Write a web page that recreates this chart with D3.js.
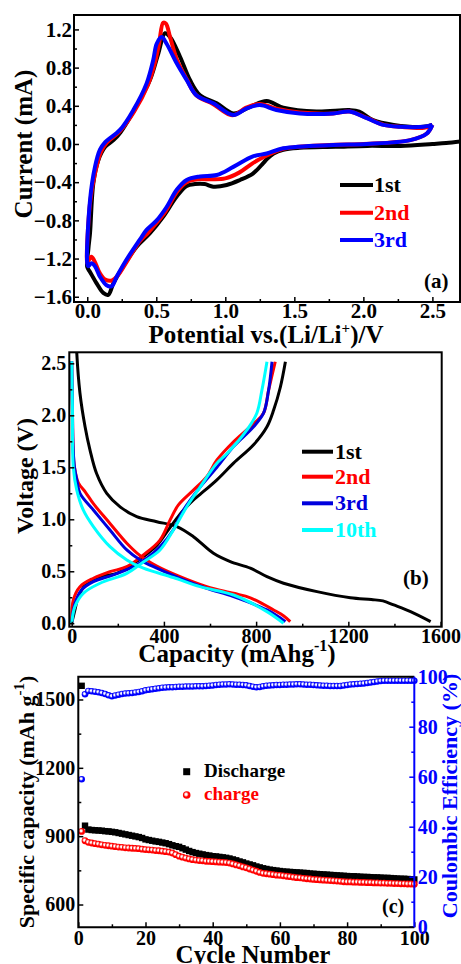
<!DOCTYPE html>
<html>
<head>
<meta charset="utf-8">
<script src="https://cdn.jsdelivr.net/npm/d3@7"></script>
<style>
  body { margin: 0; background: #fff; }
  svg text { font-family: "Liberation Serif", "Times New Roman", serif; font-weight: bold; }
</style>
</head>
<body>
<svg id="chart" width="461" height="964"></svg>
<script>
// ---- (a) cyclic voltammetry: [potential V, current mA]
const cv1st = [[2.72,0.03],[2.6,0.01],[2.5,0.0],[2.27,-0.02],[2.03,-0.02],[1.8,-0.03],[1.54,-0.04],[1.42,-0.06],[1.35,-0.1],[1.3,-0.16],[1.275,-0.2],[1.2,-0.31],[1.107,-0.377],[1.01,-0.43],[0.913,-0.447],[0.85,-0.42],[0.78,-0.42],[0.72,-0.44],[0.648,-0.55],[0.551,-0.76],[0.454,-0.935],[0.358,-1.075],[0.261,-1.28],[0.189,-1.46],[0.152,-1.58],[0.116,-1.56],[0.068,-1.46],[0.02,-1.34],[0.0,-1.29],[0.008,-1.1],[0.02,-0.935],[0.044,-0.41],[0.08,-0.17],[0.13,-0.03],[0.19,0.04],[0.24,0.12],[0.334,0.34],[0.454,0.67],[0.515,0.95],[0.563,1.16],[0.6,1.12],[0.672,0.914],[0.744,0.67],[0.817,0.51],[0.938,0.426],[1.058,0.32],[1.18,0.39],[1.3,0.45],[1.42,0.38],[1.66,0.34],[1.9,0.355],[1.97,0.34],[2.07,0.25],[2.22,0.2],[2.435,0.18],[2.5,0.2]];
const cv2nd = [[2.5,0.2],[2.46,0.11],[2.34,0.04],[2.0,0.0],[1.75,-0.01],[1.42,-0.05],[1.3,-0.12],[1.2,-0.2],[1.1,-0.3],[1.0,-0.36],[0.9,-0.37],[0.8,-0.37],[0.72,-0.4],[0.65,-0.5],[0.57,-0.7],[0.5,-0.83],[0.44,-0.93],[0.38,-1.02],[0.3,-1.2],[0.22,-1.38],[0.18,-1.43],[0.13,-1.42],[0.09,-1.35],[0.05,-1.22],[0.03,-1.18],[0.01,-1.22],[0.0,-1.25],[0.02,-0.62],[0.06,-0.28],[0.1,-0.08],[0.14,0.01],[0.24,0.14],[0.34,0.34],[0.44,0.62],[0.49,0.85],[0.52,1.05],[0.55,1.27],[0.57,1.26],[0.6,1.12],[0.65,0.88],[0.72,0.68],[0.79,0.51],[0.91,0.42],[1.05,0.3],[1.15,0.38],[1.25,0.42],[1.37,0.37],[1.54,0.33],[1.78,0.32],[1.9,0.34],[2.03,0.27],[2.15,0.2],[2.27,0.18],[2.44,0.17],[2.5,0.2]];
const cv3rd = [[2.5,0.2],[2.46,0.11],[2.34,0.04],[2.025,0.0],[1.78,-0.01],[1.42,-0.045],[1.3,-0.1],[1.2,-0.13],[1.058,-0.24],[0.938,-0.325],[0.817,-0.34],[0.72,-0.377],[0.648,-0.48],[0.575,-0.66],[0.503,-0.8],[0.43,-0.9],[0.382,-1.0],[0.285,-1.21],[0.213,-1.39],[0.177,-1.49],[0.14,-1.48],[0.092,-1.39],[0.056,-1.28],[0.03,-1.25],[0.007,-1.28],[0.0,-1.25],[0.02,-0.59],[0.056,-0.24],[0.092,-0.06],[0.13,0.02],[0.237,0.147],[0.334,0.356],[0.43,0.635],[0.478,0.88],[0.503,1.05],[0.539,1.12],[0.575,1.05],[0.648,0.845],[0.72,0.67],[0.79,0.51],[0.913,0.426],[1.058,0.304],[1.155,0.373],[1.25,0.408],[1.37,0.356],[1.54,0.32],[1.78,0.32],[1.9,0.34],[2.025,0.27],[2.145,0.2],[2.27,0.18],[2.435,0.18],[2.5,0.2]];

// ---- (b) charge/discharge profiles: [capacity mAh/g, voltage V]
const gcd1stDis = [[20,2.75],[22,2.6],[36,2.21],[58,1.89],[79,1.67],[108,1.44],[152,1.25],[210,1.12],[282,1.025],[369,0.977],[456,0.93],[528,0.833],[615,0.673],[688,0.593],[775,0.53],[847,0.448],[919,0.385],[1064,0.304],[1209,0.245],[1300,0.228],[1350,0.215],[1397,0.176],[1470,0.112],[1557,0.016]];
const gcd1stCha = [[0,0],[14,0.128],[29,0.256],[65,0.385],[123,0.448],[195,0.48],[268,0.577],[311,0.64],[370,0.75],[420,0.9],[470,1.05],[528,1.186],[557,1.24],[630,1.38],[702,1.54],[790,1.72],[847,1.89],[876,2.05],[905,2.27],[927,2.515]];
const gcd2ndDis = [[0,2.52],[3,2.1],[6,1.7],[12,1.5],[29,1.35],[60,1.26],[94,1.15],[166,0.96],[239,0.77],[297,0.65],[369,0.55],[470,0.448],[586,0.352],[702,0.288],[775,0.245],[876,0.128],[920,0.07],[948,0.016]];
const gcd2ndCha = [[0,0],[7,0.224],[36,0.352],[94,0.433],[166,0.496],[239,0.544],[311,0.657],[383,0.8],[427,0.994],[463,1.138],[528,1.28],[586,1.41],[630,1.57],[702,1.746],[789,1.92],[832,2.02],[854,2.24],[883,2.515]];
const gcd3rdDis = [[0,2.52],[3,2.1],[6,1.7],[12,1.5],[22,1.38],[36,1.25],[94,1.09],[166,0.897],[239,0.705],[297,0.609],[369,0.53],[470,0.432],[586,0.336],[702,0.256],[847,0.128],[927,0.016]];
const gcd3rdCha = [[0,0],[14,0.19],[43,0.32],[94,0.4],[181,0.465],[268,0.544],[326,0.625],[384,0.737],[441,0.9],[485,1.09],[557,1.31],[630,1.5],[702,1.7],[789,1.89],[832,2.02],[854,2.24],[869,2.515]];
const gcd10thDis = [[0,2.52],[3,2.1],[7,1.5],[22,1.28],[50,1.09],[94,0.93],[166,0.737],[239,0.609],[311,0.53],[441,0.44],[557,0.352],[702,0.272],[847,0.112],[919,0.0]];
const gcd10thCha = [[0,0],[14,0.16],[50,0.288],[123,0.385],[239,0.48],[311,0.59],[383,0.705],[441,0.897],[499,1.12],[557,1.31],[630,1.54],[673,1.63],[760,1.86],[803,2.02],[825,2.24],[847,2.515]];

// ---- (c) cycling: cycle number 1..100
const cycles = d3.range(1, 101);
const dischargeCap = [1560,946,929,927,926,925,924,922,921,919,917,914,911,908,905,902,899,896,892,886,883,880,877,875,872,869,865,860,856,853,847,841,835,830,826,823,820,817,815,812,811,809,807,805,802,798,794,789,785,780,776,772,767,763,759,756,753,751,749,747,745,744,743,742,741,740,739,738,736,735,734,733,732,731,730,729,728,727,726,725,724,724,723,722,721,721,720,719,719,718,717,717,716,715,714,713,713,712,711,710];
const chargeCap = [921,880,873,870,867,865,862,860,858,856,854,852,851,849,848,847,846,845,843,841,840,839,837,836,834,832,830,826,819,812,808,804,800,797,795,793,792,790,789,788,787,786,785,784,782,778,774,770,765,761,756,751,746,741,737,735,733,731,729,728,726,724,722,720,718,717,715,713,712,710,709,708,707,706,705,704,703,702,700,699,699,698,698,697,697,696,696,695,695,694,694,693,693,692,692,691,691,690,690,689];
const efficiency = [59,93,94.3,94.2,94,93.8,93.5,93.1,92.6,92.2,92.5,92.8,93.1,93.3,93.4,93.5,93.7,93.9,94.2,94.6,94.8,95,95.2,95.4,95.6,95.7,95.8,95.8,95.9,96,96,96.1,96.1,96.1,96.2,96.2,96.2,96.3,96.4,96.5,96.7,96.8,96.9,96.9,97,96.9,96.8,96.8,96.7,96.6,96.3,96,95.8,95.9,96.2,96.4,96.5,96.6,96.7,96.7,96.8,96.8,96.9,96.9,97,97,96.9,96.8,96.8,96.7,96.6,96.5,96.4,96.4,96.3,96.3,96.3,96.3,96.5,96.7,96.9,97,97.1,97.2,97.3,97.5,97.7,97.9,98.1,98.3,98.4,98.4,98.4,98.4,98.4,98.4,98.4,98.4,98.4,98.4];

const BLUE = "#0000ff", RED = "#ff0000", CYAN = "#00ffff";
const svg = d3.select("#chart");
const defs = svg.append("defs");

// ticks pointing inward, no domain path
function ticks(g, axis, tr, values, size, fmt, pad, fs, color) {
  const a = g.append("g").attr("transform", tr)
    .call(axis.tickValues(values).tickSize(-size).tickPadding(pad).tickFormat(fmt));
  a.select(".domain").remove();
  a.attr("font-family", null).attr("font-size", fs);
  a.selectAll("line").attr("stroke", color || "#000").attr("stroke-width", 1.5);
  a.selectAll("text").attr("fill", color || "#000");
  return a;
}

function clip(id, x0, y0, w, h) {
  defs.append("clipPath").attr("id", id).append("rect")
    .attr("x", x0).attr("y", y0).attr("width", w).attr("height", h);
  return "url(#" + id + ")";
}

function ylabel(x, y, fs, parts, color) {
  const t = svg.append("text").attr("transform", `translate(${x},${y}) rotate(-90)`)
    .attr("text-anchor", "middle").attr("font-size", fs).attr("fill", color || "#000");
  parts(t);
}

// ================= (a) =================
{
  const L = 74, T = 15, R = 460, B = 302;
  const x = d3.scaleLinear().domain([-0.096, 2.7]).range([L, R]);
  const y = d3.scaleLinear().domain([-1.655, 1.351]).range([B, T]);
  const g = svg.append("g");
  const line = d3.line().x(d => x(d[0])).y(d => y(d[1])).curve(d3.curveCatmullRom.alpha(0.5));
  const cp = clip("clipA", L, T, R - L, B - T);
  [[cv1st, "#000"], [cv2nd, RED], [cv3rd, BLUE]].forEach(([d, c]) => {
    g.append("path").attr("d", line(d)).attr("clip-path", cp)
      .attr("fill", "none").attr("stroke", c).attr("stroke-width", 4).attr("stroke-linejoin", "round");
  });
  ticks(g, d3.axisLeft(y), `translate(${L},0)`, [-1.6, -1.2, -0.8, -0.4, 0, 0.4, 0.8, 1.2], 5, d3.format(".1f"), 2, 21);
  ticks(g, d3.axisLeft(y), `translate(${L},0)`, [-1.4, -1.0, -0.6, -0.2, 0.2, 0.6, 1.0], 3, () => "", 2, 21);
  ticks(g, d3.axisBottom(x), `translate(0,${B})`, [0, 0.5, 1, 1.5, 2, 2.5], 5, d3.format(".1f"), 1, 21);
  ticks(g, d3.axisBottom(x), `translate(0,${B})`, [0.25, 0.75, 1.25, 1.75, 2.25], 3, () => "", 1, 21);
  g.append("rect").attr("x", L).attr("y", T).attr("width", R - L).attr("height", B - T)
    .attr("fill", "none").attr("stroke", "#000").attr("stroke-width", 2);

  const leg = [["1st", "#000", 185], ["2nd", RED, 212.7], ["3rd", BLUE, 240]];
  leg.forEach(([s, c, yy]) => {
    g.append("line").attr("x1", 340).attr("x2", 373).attr("y1", yy).attr("y2", yy)
      .attr("stroke", c).attr("stroke-width", 4);
    g.append("text").attr("x", 374).attr("y", yy + 7).attr("font-size", 22).attr("fill", c).text(s);
  });
  g.append("text").attr("x", 424).attr("y", 288).attr("font-size", 21).text("(a)");

  const xl = svg.append("text").attr("x", 266).attr("y", 343).attr("text-anchor", "middle").attr("font-size", 25);
  xl.append("tspan").text("Potential vs.(Li/Li");
  xl.append("tspan").attr("dy", -10).attr("font-size", 15).text("+");
  xl.append("tspan").attr("dy", 10).text(")/V");
  ylabel(32, 144, 25, t => t.text("Current (mA)"));
}

// ================= (b) =================
{
  const L = 69.3, T = 352.3, R = 441.7, B = 626.7;
  const x = d3.scaleLinear().domain([-10.4, 1605]).range([L, R]);
  const y = d3.scaleLinear().domain([-0.033, 2.606]).range([B, T]);
  const g = svg.append("g");
  const line = d3.line().x(d => x(d[0])).y(d => y(d[1])).curve(d3.curveCatmullRom.alpha(0.5));
  const cp = clip("clipB", L, T, R - L, B - T);
  const series = [[gcd1stDis, "#000"], [gcd1stCha, "#000"], [gcd2ndDis, RED], [gcd2ndCha, RED],
    [gcd3rdDis, "#0000dd"], [gcd3rdCha, "#0000dd"], [gcd10thDis, CYAN], [gcd10thCha, CYAN]];
  series.forEach(([d, c]) => {
    g.append("path").attr("d", line(d)).attr("clip-path", cp)
      .attr("fill", "none").attr("stroke", c).attr("stroke-width", 3).attr("stroke-linejoin", "round");
  });
  ticks(g, d3.axisLeft(y), `translate(${L},0)`, [0, 0.5, 1, 1.5, 2, 2.5], 5, d3.format(".1f"), 3, 20);
  ticks(g, d3.axisLeft(y), `translate(${L},0)`, [0.25, 0.75, 1.25, 1.75, 2.25], 3, () => "", 3, 20);
  ticks(g, d3.axisBottom(x), `translate(0,${B})`, [0, 400, 800, 1200, 1600], 5, d3.format("d"), 2, 20);
  ticks(g, d3.axisBottom(x), `translate(0,${B})`, [200, 600, 1000, 1400], 3, () => "", 2, 20);
  g.append("rect").attr("x", L).attr("y", T).attr("width", R - L).attr("height", B - T)
    .attr("fill", "none").attr("stroke", "#000").attr("stroke-width", 2);

  const leg = [["1st", "#000", 451.7], ["2nd", RED, 476.7], ["3rd", "#0000dd", 503.3], ["10th", CYAN, 530]];
  leg.forEach(([s, c, yy]) => {
    g.append("line").attr("x1", 302).attr("x2", 333).attr("y1", yy).attr("y2", yy)
      .attr("stroke", c).attr("stroke-width", 4);
    g.append("text").attr("x", 335).attr("y", yy + 7).attr("font-size", 22).attr("fill", c).text(s);
  });
  g.append("text").attr("x", 403).attr("y", 585).attr("font-size", 21).text("(b)");

  const xl = svg.append("text").attr("x", 237).attr("y", 662).attr("text-anchor", "middle").attr("font-size", 25);
  xl.append("tspan").text("Capacity (mAhg");
  xl.append("tspan").attr("dy", -11).attr("font-size", 16).text("-1");
  xl.append("tspan").attr("dy", 11).text(")");
  ylabel(33, 476, 24, t => t.text("Voltage (V)"));
}

// ================= (c) =================
{
  const L = 78.3, T = 676.7, R = 414.3, B = 927.3;
  const x = d3.scaleLinear().domain([0, 100]).range([L, R]);
  const y = d3.scaleLinear().domain([500, 1600]).range([B, T]);
  const yR = d3.scaleLinear().domain([0, 100]).range([926.7, T]);
  const g = svg.append("g");

  // shaded ball markers
  const grad = (id, c) => {
    const r = defs.append("radialGradient").attr("id", id).attr("cx", "42%").attr("cy", "42%").attr("r", "58%");
    r.append("stop").attr("offset", "0%").attr("stop-color", "#fff");
    r.append("stop").attr("offset", "20%").attr("stop-color", "#fff");
    r.append("stop").attr("offset", "60%").attr("stop-color", c);
    r.append("stop").attr("offset", "100%").attr("stop-color", c);
  };
  grad("gRed", RED);
  grad("gBlue", BLUE);

  g.selectAll("circle.ce").data(cycles).join("circle").attr("class", "ce")
    .attr("cx", d => x(d)).attr("cy", (d, i) => yR(efficiency[i])).attr("r", 3.3)
    .attr("fill", "url(#gBlue)");
  g.selectAll("rect.dis").data(cycles).join("rect").attr("class", "dis")
    .attr("x", d => x(d) - 3.2).attr("y", (d, i) => y(dischargeCap[i]) - 3.2)
    .attr("width", 6.4).attr("height", 6.4).attr("fill", "#000");
  g.selectAll("circle.cha").data(cycles).join("circle").attr("class", "cha")
    .attr("cx", d => x(d)).attr("cy", (d, i) => y(chargeCap[i])).attr("r", 3.4)
    .attr("fill", "url(#gRed)");

  ticks(g, d3.axisLeft(y), `translate(${L},0)`, [600, 900, 1200, 1500], 5, d3.format("d"), 3, 20);
  ticks(g, d3.axisLeft(y), `translate(${L},0)`, [750, 1050, 1350], 3, () => "", 3, 20);
  ticks(g, d3.axisBottom(x), `translate(0,${B})`, [0, 20, 40, 60, 80, 100], 5, d3.format("d"), 3.5, 20);
  ticks(g, d3.axisBottom(x), `translate(0,${B})`, [10, 30, 50, 70, 90], 3, () => "", 3.5, 20);
  ticks(g, d3.axisRight(yR), `translate(${R},0)`, [0, 20, 40, 60, 80, 100], 5, d3.format("d"), 3.5, 20, BLUE);
  ticks(g, d3.axisRight(yR), `translate(${R},0)`, [10, 30, 50, 70, 90], 3, () => "", 3.5, 20, BLUE);

  g.append("path").attr("d", `M${R},${T}H${L}V${B}H${R}`)
    .attr("fill", "none").attr("stroke", "#000").attr("stroke-width", 2);
  g.append("line").attr("x1", R).attr("x2", R).attr("y1", T).attr("y2", B)
    .attr("stroke", BLUE).attr("stroke-width", 2);

  g.append("rect").attr("x", 183.2).attr("y", 768.2).attr("width", 7).attr("height", 7).attr("fill", "#000");
  g.append("text").attr("x", 204).attr("y", 777).attr("font-size", 19).text("Discharge");
  g.append("circle").attr("cx", 186.7).attr("cy", 795).attr("r", 3.8).attr("fill", "url(#gRed)");
  g.append("text").attr("x", 204).attr("y", 800).attr("font-size", 19).attr("fill", RED).text("charge");
  g.append("text").attr("x", 382).attr("y", 913).attr("font-size", 20).text("(c)");

  svg.append("text").attr("x", 253).attr("y", 963).attr("text-anchor", "middle").attr("font-size", 25).text("Cycle Number");
  ylabel(34, 802, 22, t => {
    t.append("tspan").text("Specific capacity (mAh g");
    t.append("tspan").attr("dy", -10).attr("font-size", 15).text("-1");
    t.append("tspan").attr("dy", 10).text(")");
  });
  ylabel(457, 796, 22, t => t.text("Coulombic Efficiency (%)"), BLUE);
}
</script>
</body>
</html>
